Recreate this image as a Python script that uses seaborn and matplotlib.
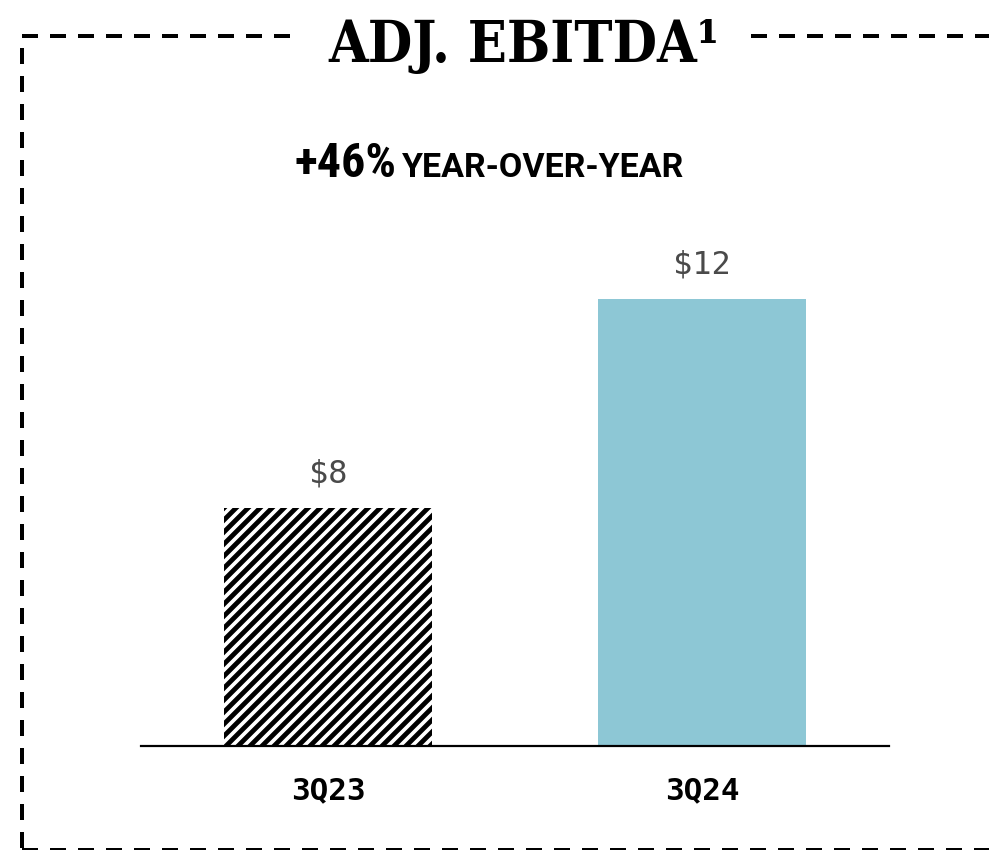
import matplotlib
matplotlib.use("Agg")
import matplotlib.pyplot as plt
from matplotlib.lines import Line2D
import seaborn as sns
import pandas as pd

# Quarterly adjusted EBITDA ($M)
periods = ["3Q23", "3Q24"]
ebitda = [8, 12]
value_labels = ["$8", "$12"]
bar_colors = ["white", "#8DC7D5"]
growth_text = "+46%"
growth_caption = "YEAR-OVER-YEAR"
title_text = "ADJ. EBITDA\u00b9"

sns.set_theme(style="white")
plt.rcParams["hatch.linewidth"] = 2.4

MONO = ["DejaVu Sans Mono"]
SERIF_HEAVY = ["DejaVu Serif Condensed", "DejaVu Serif"]
SANS_NARROW = ["Roboto Condensed", "DejaVu Sans"]
SANS = ["Roboto", "DejaVu Sans"]

DPI = 144
W, H = 989, 850
fig = plt.figure(figsize=(W / DPI, H / DPI), dpi=DPI)
ax = fig.add_axes([141 / W, (H - 746) / H, 748 / W, 516 / H])

df = pd.DataFrame({"period": periods, "ebitda": ebitda})
sns.barplot(data=df, x="period", y="ebitda", hue="period", palette=bar_colors,
            width=0.558, legend=False, ax=ax, linewidth=0, saturation=1)

# prior-year bar is shown with black diagonal stripes
first = ax.patches[0]
first.set_hatch("////")
first.set_edgecolor("black")
first.set_linewidth(0)

ax.set_xlim(-0.5, 1.5)
ax.set_ylim(3.445, 13.32)
for side in ("top", "right", "left"):
    ax.spines[side].set_visible(False)
ax.spines["bottom"].set_color("black")
ax.spines["bottom"].set_linewidth(1.1)
ax.set_yticks([])
ax.set_xlabel("")
ax.set_ylabel("")
ax.tick_params(axis="x", length=0, pad=15)
for lab in ax.get_xticklabels():
    lab.set_fontfamily(MONO)
    lab.set_fontweight("bold")
    lab.set_fontsize(15.5)
    lab.set_color("black")

for patch, txt in zip(ax.patches, value_labels):
    cx = patch.get_x() + patch.get_width() / 2
    ax.annotate(txt, xy=(cx, patch.get_height()), xytext=(0, 9),
                textcoords="offset points", ha="center", va="bottom",
                fontfamily=MONO, fontsize=16, color="#4a4a4a")

# headline
fig.text(524 / W, 1 - 62 / H, title_text, ha="center", va="baseline",
         fontfamily=SERIF_HEAVY, fontweight="bold", fontstretch="condensed",
         fontsize=28.5, color="black")

t1 = fig.text(295 / W, 1 - 177 / H, growth_text, ha="left", va="baseline",
              fontfamily=SANS_NARROW, fontweight="bold", fontstretch="condensed",
              fontsize=24, color="black")
fig.canvas.draw()
bb = t1.get_window_extent()
fig.text((bb.x1 + 5) / fig.bbox.width, 1 - 177 / H, growth_caption, ha="left",
         va="baseline", fontfamily=SANS, fontweight="bold",
         fontsize=17, color="black")

# dashed frame around the panel
frame_style = dict(color="black", linewidth=2, linestyle=(0, (4, 3)),
                   transform=fig.transFigure, solid_capstyle="butt")


def frame_line(x0, y0, x1, y1):
    fig.add_artist(Line2D([x0 / W, x1 / W], [1 - y0 / H, 1 - y1 / H], **frame_style))


frame_line(22, 36, 291, 36)
frame_line(751, 36, 995, 36)
frame_line(22, 48, 22, 852)
frame_line(22, 849.5, 995, 849.5)

fig.savefig("out.png", dpi=DPI)
